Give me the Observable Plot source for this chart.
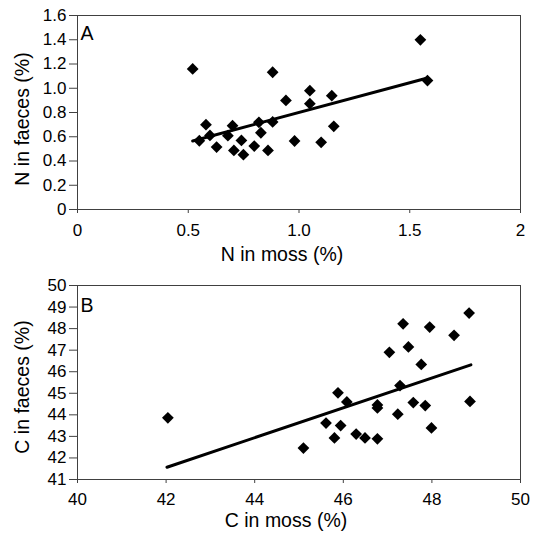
<!DOCTYPE html>
<html><head><meta charset="utf-8">
<script src="https://cdn.jsdelivr.net/npm/d3@7"></script>
<script src="https://cdn.jsdelivr.net/npm/@observablehq/plot@0.6"></script>
<style>body{margin:0;background:#fff} svg{display:block}</style>
</head><body><div id="chart"></div>
<script>
// Panel A: N in moss vs N in faeces (%)
const nMoss   = [0.52, 1.548, 1.58, 0.881, 1.049, 1.148, 0.941, 1.049, 0.58, 0.70, 0.819, 0.881, 1.157, 0.55, 0.598, 0.679, 0.828, 0.628, 0.74, 0.706, 0.749, 0.798, 0.86, 0.98, 1.10];
const nFaeces = [1.159, 1.399, 1.063, 1.132, 0.98, 0.939, 0.90, 0.873, 0.70, 0.691, 0.719, 0.722, 0.686, 0.567, 0.611, 0.609, 0.633, 0.515, 0.57, 0.487, 0.452, 0.523, 0.487, 0.565, 0.554];
const nTrendX = [0.52, 1.58];
const nTrendY = [0.565, 1.085];
const nXTicks = [0, 0.5, 1, 1.5, 2];
const nXLabels = ["0", "0.5", "1.0", "1.5", "2"];
const nYTicks = [0, 0.2, 0.4, 0.6, 0.8, 1.0, 1.2, 1.4, 1.6];
const nYLabels = ["0", "0.2", "0.4", "0.6", "0.8", "1.0", "1.2", "1.4", "1.6"];

// Panel B: C in moss vs C in faeces (%)
const cMoss   = [42.04, 45.10, 45.61, 45.80, 45.88, 45.94, 46.08, 46.29, 46.49, 46.77, 46.77, 46.77, 47.04, 47.23, 47.28, 47.35, 47.47, 47.58, 47.76, 47.85, 47.95, 47.99, 48.50, 48.84, 48.86];
const cFaeces = [43.86, 42.46, 43.62, 42.93, 45.02, 43.50, 44.60, 43.11, 42.93, 44.46, 44.32, 42.89, 46.90, 44.03, 45.36, 48.22, 47.15, 44.57, 46.34, 44.43, 48.07, 43.39, 47.69, 48.72, 44.62];
const cTrendX = [42.02, 48.88];
const cTrendY = [41.57, 46.32];
const cXTicks = [40, 42, 44, 46, 48, 50];
const cXLabels = ["40", "42", "44", "46", "48", "50"];
const cYTicks = [41, 42, 43, 44, 45, 46, 47, 48, 49, 50];
const cYLabels = ["41", "42", "43", "44", "45", "46", "47", "48", "49", "50"];

const FONT = "'Liberation Sans', Arial, Helvetica, sans-serif";
const AXIS = "#404040";
const TICK_FS = 17;
const TITLE_FS = 19.5;

function panel(o) {
  const pts = o.xs.map((x, i) => ({x, y: o.ys[i]}));
  const trend = o.tx.map((x, i) => ({x, y: o.ty[i]}));
  const svg = Plot.plot({
    width: 541,
    height: o.height,
    marginTop: o.marginTop,
    marginBottom: 59,
    marginLeft: 77,
    marginRight: 21,
    style: {fontFamily: FONT, fontSize: TICK_FS + "px", color: "#000", background: "#fff", overflow: "visible"},
    x: {domain: o.xDomain},
    y: {domain: o.yDomain},
    marks: [
      Plot.frame({stroke: AXIS, strokeWidth: 1}),
      Plot.axisX({ticks: o.xTicks, tickSize: 4, tickPadding: o.xPad, label: null, stroke: AXIS, fill: "#000", fontSize: TICK_FS,
        tickFormat: d => o.xLabels[o.xTicks.findIndex(t => Math.abs(t - d) < 1e-9)]}),
      Plot.axisY({ticks: o.yTicks, tickSize: 8, tickPadding: 3, label: null, stroke: AXIS, fill: "#000", fontSize: TICK_FS,
        tickFormat: d => o.yLabels[o.yTicks.findIndex(t => Math.abs(t - d) < 1e-9)]}),
      Plot.line(trend, {x: "x", y: "y", stroke: "#000", strokeWidth: 3}),
      Plot.dot(pts, {x: "x", y: "y", symbol: "diamond2", r: 5.3, fill: "#000", stroke: "none"})
    ]
  });
  const s = d3.select(svg);
  s.selectAll("text").attr("font-size", TICK_FS).style("font-size", TICK_FS + "px");
  const add = () => s.append("text").attr("font-size", TITLE_FS).style("font-size", TITLE_FS + "px")
    .attr("font-family", FONT).attr("fill", "#000");
  add().attr("x", o.xTitleX).attr("y", o.xTitleY).attr("text-anchor", "middle").text(o.xTitle);
  add().attr("transform", `translate(29,${o.yTitleY}) rotate(-90)`).attr("text-anchor", "middle").text(o.yTitle);
  add().attr("x", 87).attr("y", o.letterY).text(o.letter);
  return svg;
}

const root = document.getElementById("chart");
root.appendChild(panel({
  xs: nMoss, ys: nFaeces, tx: nTrendX, ty: nTrendY,
  xDomain: [0, 2], yDomain: [0, 1.6],
  xTicks: nXTicks, xLabels: nXLabels, yTicks: nYTicks, yLabels: nYLabels,
  height: 268, marginTop: 15, xPad: 10,
  xTitle: "N in moss (%)", yTitle: "N in faeces (%)",
  xTitleX: 282, xTitleY: 261, yTitleY: 119, letter: "A", letterY: 40
}));
root.appendChild(panel({
  xs: cMoss, ys: cFaeces, tx: cTrendX, ty: cTrendY,
  xDomain: [40, 50], yDomain: [41, 50],
  xTicks: cXTicks, xLabels: cXLabels, yTicks: cYTicks, yLabels: cYLabels,
  height: 270, marginTop: 17, xPad: 9,
  xTitle: "C in moss (%)", yTitle: "C in faeces (%)",
  xTitleX: 286, xTitleY: 259, yTitleY: 119, letter: "B", letterY: 44
}));
</script>
</body></html>
